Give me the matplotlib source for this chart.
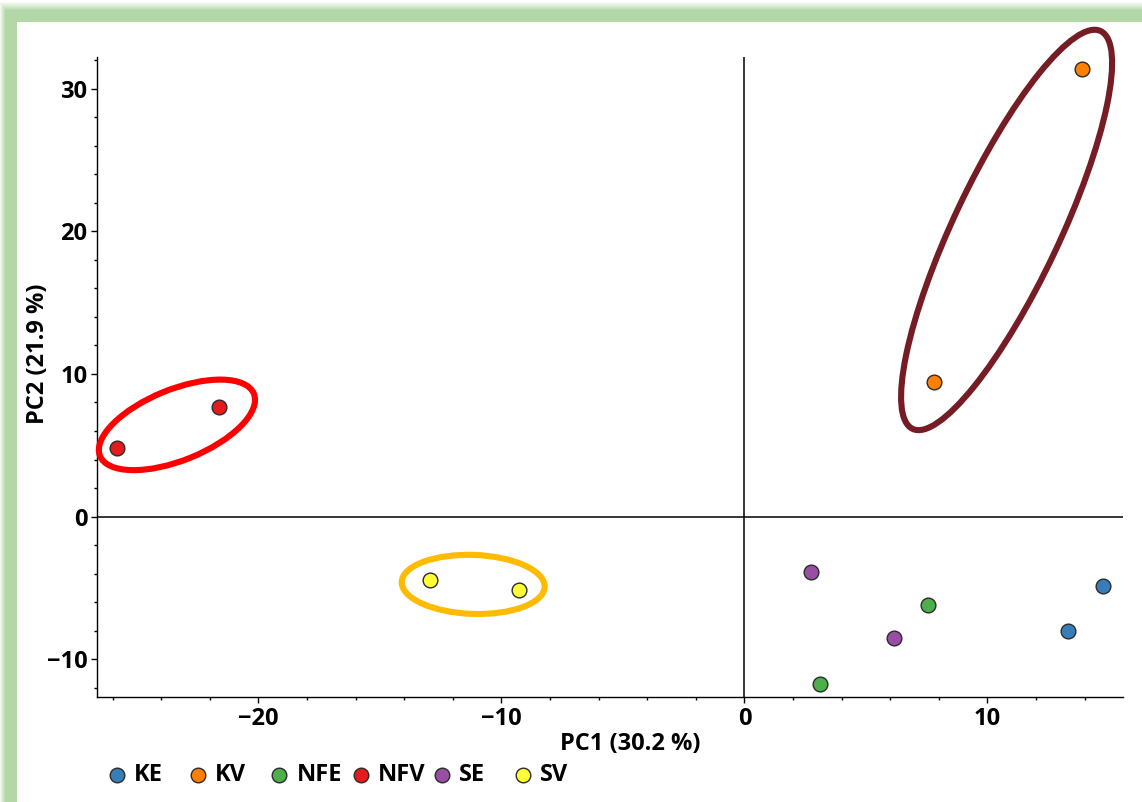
import numpy as np
import matplotlib
matplotlib.use("Agg")
import matplotlib.pyplot as plt
from matplotlib.patches import Ellipse
from matplotlib.lines import Line2D
from matplotlib.transforms import ScaledTranslation
from matplotlib.ticker import MultipleLocator

plt.rcParams['font.family'] = ['Open Sans', 'DejaVu Sans']
plt.rcParams['font.weight'] = 'bold'

# PCA scores per sample group
groups = ["KE", "KV", "NFE", "NFV", "SE", "SV"]
colors = ["#377eb8", "#ff7f00", "#4daf4a", "#e41a1c", "#984ea3", "#ffff33"]
pc1 = {
    "KE": [14.75, 13.33],
    "KV": [13.90, 7.80],
    "NFE": [7.55, 3.12],
    "NFV": [-25.8, -21.6],
    "SE": [2.74, 6.17],
    "SV": [-12.94, -9.28],
}
pc2 = {
    "KE": [-4.86, -8.01],
    "KV": [31.40, 9.40],
    "NFE": [-6.19, -11.75],
    "NFV": [4.80, 7.70],
    "SE": [-3.88, -8.48],
    "SV": [-4.44, -5.14],
}
xlabel = "PC1 (30.2 %)"
ylabel = "PC2 (21.9 %)"

# Highlight rings: centre (data units), full width/height (pixels), angle, colour
rings = [
    ((-23.35, 6.43), 166, 71, 22, "#ff0000"),
    ((-11.16, -4.75), 143, 59, -2, "#ffbb00"),
    ((10.79, 20.09), 440, 106, 64.7, "#761c24"),
]

FS = 17
W, H, DPI = 1142, 802, 100
fig = plt.figure(figsize=(W / DPI, H / DPI), dpi=DPI)

# Green frame with a soft fade on its outer edge
bg = fig.add_axes([0, 0, 1, 1], zorder=-10)
bg.set_axis_off()
green = np.array([178, 216, 168]) / 255.0
yy, xx = np.mgrid[0:H, 0:W]
mask_top = yy < 22
mask_left = xx < 17
fade_top = np.clip((yy - 1) / 9.0, 0, 1)
fade_left = np.clip((xx + 1) / 6.0, 0, 1)
a = np.zeros((H, W))
a = np.where(mask_top, fade_top, a)
a = np.where(mask_left & (yy >= 22), fade_left, a)
a = np.where(mask_left & mask_top, np.minimum(fade_top, fade_left), a)
img = np.ones((H, W, 3)) * (1 - a[..., None]) + green * a[..., None]
bg.imshow(img, aspect='auto', extent=[0, 1, 0, 1], origin='upper')
bg.set_xlim(0, 1)
bg.set_ylim(0, 1)

ax = fig.add_axes([97 / W, 1 - 697 / H, 1026 / W, 640 / H])
ax.set_facecolor("none")
ax.set_xlim(-26.64, 15.58)
ax.set_ylim(-12.64, 32.21)

for s in ["top", "right"]:
    ax.spines[s].set_visible(False)
for s in ["left", "bottom"]:
    ax.spines[s].set_linewidth(1.0)
    ax.spines[s].set_color("black")

ax.axhline(0, color="black", lw=1.1, zorder=1)
ax.axvline(0, color="black", lw=1.1, zorder=1)

ax.xaxis.set_major_locator(MultipleLocator(10))
ax.xaxis.set_minor_locator(MultipleLocator(2))
ax.yaxis.set_major_locator(MultipleLocator(10))
ax.yaxis.set_minor_locator(MultipleLocator(2))
ax.tick_params(which="major", length=4, width=1, labelsize=FS, pad=3)
ax.tick_params(which="minor", length=2.5, width=1)
for lab in ax.get_xticklabels() + ax.get_yticklabels():
    lab.set_fontweight("bold")

ax.set_xlabel(xlabel, fontsize=FS, fontweight="bold")
ax.xaxis.set_label_coords(0.52, -0.054)
ax.set_ylabel(ylabel, fontsize=FS, fontweight="bold")
ax.yaxis.set_label_coords(-0.046, 0.536)

for g, c in zip(groups, colors):
    ax.scatter(pc1[g], pc2[g], s=112, color=c, edgecolor="#2b2b2b",
               linewidth=1.0, zorder=3)

for (cx, cy), w, h, ang, col in rings:
    tr = fig.dpi_scale_trans + ScaledTranslation(cx, cy, ax.transData)
    e = Ellipse((0, 0), w / DPI, h / DPI, angle=ang, transform=tr,
                fill=False, edgecolor=col, lw=4.4, zorder=4)
    fig.add_artist(e)

# Legend row along the bottom, fixed slot pitch
x0, pitch, ly = 117, 81.2, 775
for i, (g, c) in enumerate(zip(groups, colors)):
    mx = x0 + pitch * i
    fig.add_artist(Line2D([mx / W], [1 - ly / H], marker="o", markersize=10.5,
                          markerfacecolor=c, markeredgecolor="#2b2b2b",
                          markeredgewidth=1.0, linestyle="none",
                          transform=fig.transFigure))
    fig.text((mx + 17) / W, 1 - ly / H, g, fontsize=FS, fontweight="bold",
             va="center", ha="left")

fig.savefig("out.png", dpi=DPI)
